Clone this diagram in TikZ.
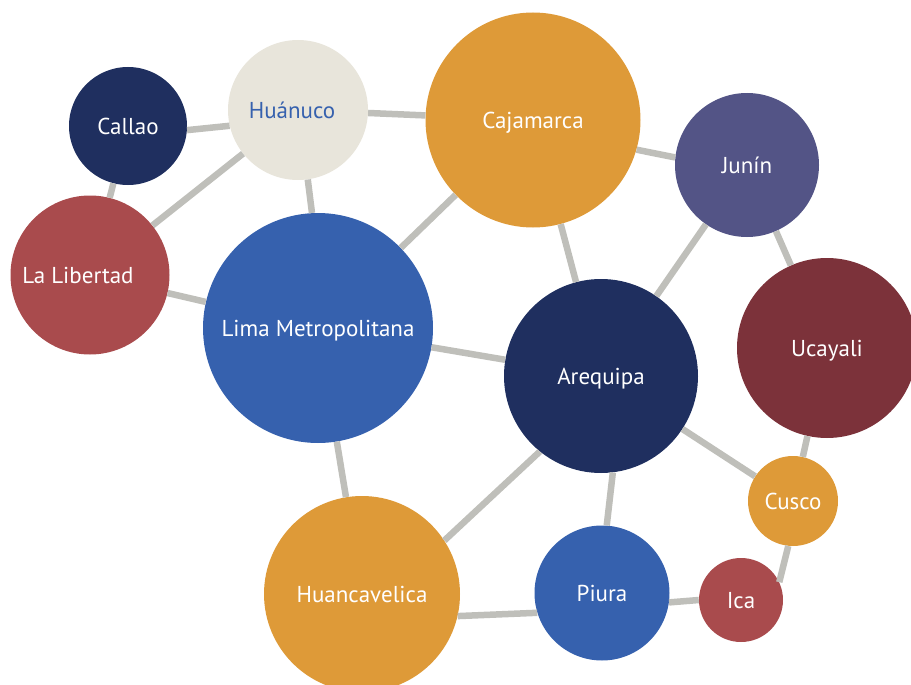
\documentclass[tikz,border=0pt]{standalone}
\usepackage{fontspec}
\setmainfont{PT Sans}
\usetikzlibrary{positioning}

\definecolor{navy}{HTML}{1F2F5F}
\definecolor{sand}{HTML}{E8E5DB}
\definecolor{ochre}{HTML}{DE9A38}
\definecolor{violet}{HTML}{535486}
\definecolor{brick}{HTML}{A94B4D}
\definecolor{royal}{HTML}{3661AE}
\definecolor{wine}{HTML}{7C323A}
\definecolor{linkgray}{HTML}{BFBFBA}

\begin{document}
\begin{tikzpicture}[x=1pt, y=-1pt,
    region/.style={circle, inner sep=0pt, text depth=0pt, text=white, font=\fontsize{23}{27}\selectfont},
    link/.style={line width=6.5pt, color=linkgray}]
    \clip (0,0) rectangle (911,685);
    \useasboundingbox (0,0) rectangle (911,685);

    % regions
    \node[region, fill=navy,   minimum size=118pt] (callao)       at (128,126) {Callao};
    \node[region, fill=sand,   minimum size=140pt, text=royal] (huanuco) at (298,110) {\hspace*{-12pt}Huánuco};
    \node[region, fill=ochre,  minimum size=215pt] (cajamarca)    at (533,120) {Cajamarca};
    \node[region, fill=violet, minimum size=144pt] (junin)        at (747,165) {Junín};
    \node[region, fill=brick,  minimum size=159pt] (lalibertad)   at (90,275)  {\hspace*{-24pt}La Libertad};
    \node[region, fill=royal,  minimum size=230pt] (lima)         at (318,328) {Lima Metropolitana};
    \node[region, fill=navy,   minimum size=194pt] (arequipa)     at (601,376) {Arequipa};
    \node[region, fill=wine,   minimum size=180pt] (ucayali)      at (827,348) {Ucayali};
    \node[region, fill=ochre,  minimum size=90pt]  (cusco)        at (793,501) {Cusco};
    \node[region, fill=ochre,  minimum size=196pt] (huancavelica) at (362,594) {Huancavelica};
    \node[region, fill=royal,  minimum size=135pt] (piura)        at (602,593) {Piura};
    \node[region, fill=brick,  minimum size=84pt]  (ica)          at (741,600) {Ica};

    % links
    \draw[link] (callao.-4) -- (huanuco.193);
    \draw[link] (callao) -- (lalibertad);
    \draw[link] (huanuco) -- (lalibertad);
    \draw[link] (huanuco.-82) -- (lima.93);
    \draw[link] (huanuco) -- (cajamarca);
    \draw[link] (lalibertad) -- (lima);
    \draw[link] (cajamarca) -- (lima);
    \draw[link] (cajamarca) -- (arequipa);
    \draw[link] (cajamarca.-16) -- (junin.174);
    \draw[link] (junin) -- (arequipa);
    \draw[link] (junin) -- (ucayali);
    \draw[link] (lima) -- (arequipa);
    \draw[link] (lima) -- (huancavelica);
    \draw[link] (arequipa.231) -- (huancavelica.33);
    \draw[link] (arequipa.-83) -- (piura.86);
    \draw[link] (arequipa) -- (cusco);
    \draw[link] (ucayali) -- (cusco);
    \draw[link] (cusco.264) -- (ica.25);
    \draw[link] (huancavelica.-13) -- (piura.197);
    \draw[link] (piura.-8) -- (ica.180);
\end{tikzpicture}
\end{document}
